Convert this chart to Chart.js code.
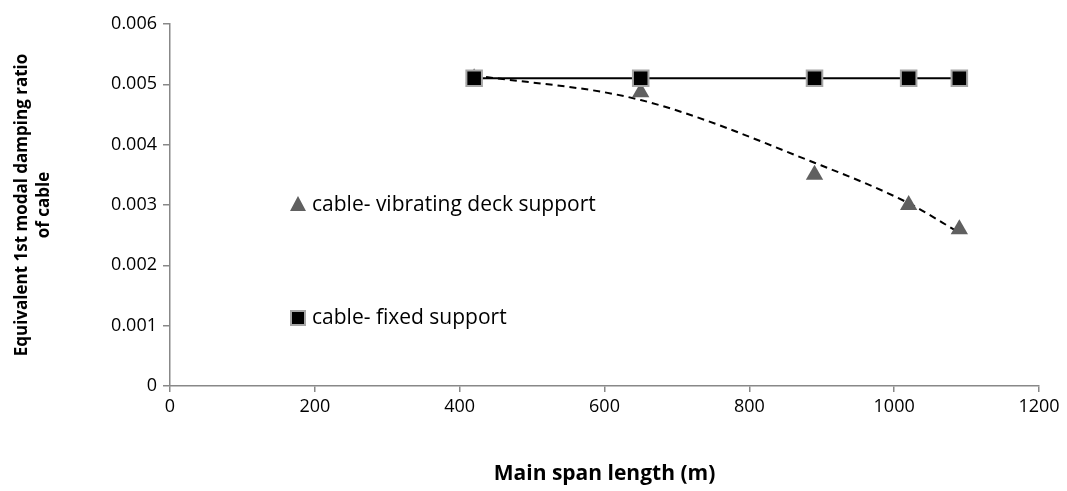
<!DOCTYPE html>
<html>
<head>
<meta charset="utf-8">
<script src="https://cdn.jsdelivr.net/npm/chart.js@4"></script>
<style>
  html, body { margin: 0; padding: 0; background: #fff; }
  #wrap { width: 1067px; height: 491px; position: relative; }
</style>
</head>
<body>
<div id="wrap"><canvas id="dampChart"></canvas></div>
<script>
// main span lengths (m)
const spanLengths = [420, 650, 890, 1020, 1090];
// equivalent 1st modal damping ratio
const fixedSupport = [0.0051, 0.0051, 0.0051, 0.0051, 0.0051];
const vibratingDeck = [0.0051, 0.00487, 0.0035, 0.0030, 0.0026];
// dashed trend curve
const trendX = [420, 650, 890, 1020, 1090];
const trendY = [0.00515, 0.00474, 0.0037, 0.00303, 0.00254];

const xTicks = [0, 200, 400, 600, 800, 1000, 1200];
const yTicks = [0, 0.001, 0.002, 0.003, 0.004, 0.005, 0.006];

const legendItems = [
    { label: 'cable- vibrating deck support', style: 'triangle', y: 204 },
    { label: 'cable- fixed support', style: 'rect', y: 317 }
];

const FONT = '"Open Sans", "Noto Sans", sans-serif';
const AXIS_GREY = '#888888';

const toPoints = (xs, ys) => xs.map((x, i) => ({ x: x, y: ys[i] }));

// legend drawn inside the plot, like the original
const insideLegend = {
    id: 'insideLegend',
    afterDraw(chart) {
        const ctx = chart.ctx;
        ctx.save();
        ctx.font = '21px ' + FONT;
        ctx.textBaseline = 'middle';
        legendItems.forEach(item => {
            const mx = 298, my = item.y;
            if (item.style === 'triangle') {
                ctx.fillStyle = '#606060';
                ctx.beginPath();
                ctx.moveTo(mx, my - 8);
                ctx.lineTo(mx + 8, my + 7);
                ctx.lineTo(mx - 8, my + 7);
                ctx.closePath();
                ctx.fill();
            } else {
                ctx.fillStyle = '#a6a6a6';
                ctx.fillRect(mx - 8, my - 7, 16, 16);
                ctx.fillStyle = '#000';
                ctx.fillRect(mx - 6, my - 5, 12, 12);
            }
            ctx.fillStyle = '#000';
            ctx.fillText(item.label, mx + 14, my + 1);
        });
        ctx.restore();
    }
};

const ctx = document.getElementById('dampChart').getContext('2d');
new Chart(ctx, {
    type: 'scatter',
    data: {
        datasets: [
            {
                label: 'trend',
                data: toPoints(trendX, trendY),
                showLine: true,
                borderColor: '#000',
                borderWidth: 2,
                borderDash: [7, 5],
                cubicInterpolationMode: 'monotone',
                pointRadius: 0,
                order: 3
            },
            {
                label: 'cable- vibrating deck support',
                data: toPoints(spanLengths, vibratingDeck),
                showLine: false,
                pointStyle: 'triangle',
                pointRadius: 10,
                backgroundColor: '#606060',
                borderColor: '#606060',
                borderWidth: 0,
                order: 2
            },
            {
                label: 'cable- fixed support',
                data: toPoints(spanLengths, fixedSupport),
                showLine: true,
                borderColor: '#000',
                borderWidth: 2,
                pointStyle: 'rect',
                pointRadius: 11,
                pointBackgroundColor: '#000',
                pointBorderColor: '#a6a6a6',
                pointBorderWidth: 2,
                order: 1
            }
        ]
    },
    options: {
        responsive: true,
        maintainAspectRatio: false,
        animation: false,
        layout: { padding: { top: 24, right: 28, left: 0, bottom: 0 } },
        plugins: {
            legend: { display: false },
            tooltip: { enabled: false }
        },
        scales: {
            x: {
                type: 'linear',
                min: 0,
                max: 1200,
                afterBuildTicks: axis => { axis.ticks = xTicks.map(v => ({ value: v })); },
                afterFit: axis => { axis.height = 105; },
                grid: { drawOnChartArea: false, drawTicks: true, tickLength: 6, color: AXIS_GREY, lineWidth: 1.5 },
                border: { color: AXIS_GREY, width: 1.5 },
                ticks: { color: '#000', font: { family: FONT, size: 18 }, padding: 4, maxRotation: 0, callback: v => String(v) },
                title: { display: true, text: 'Main span length (m)', color: '#000', font: { family: FONT, size: 21, weight: 'bold' }, padding: { top: 18 } }
            },
            y: {
                min: 0,
                max: 0.006,
                afterBuildTicks: axis => { axis.ticks = yTicks.map(v => ({ value: v })); },
                afterFit: axis => { axis.width = 170; },
                grid: { drawOnChartArea: false, drawTicks: true, tickLength: 7, color: AXIS_GREY, lineWidth: 1.5 },
                border: { color: AXIS_GREY, width: 1.5 },
                ticks: {
                    color: '#000',
                    font: { family: FONT, size: 18 },
                    padding: 6,
                    callback: v => v === 0 ? '0' : v.toFixed(3)
                },
                title: {
                    display: true,
                    text: ['Equivalent 1st modal damping ratio', 'of cable'],
                    color: '#000',
                    font: { family: FONT, size: 17, weight: 'bold', lineHeight: 1.25 },
                    padding: { top: 12, bottom: 4 }
                }
            }
        }
    },
    plugins: [insideLegend]
});
</script>
</body>
</html>
